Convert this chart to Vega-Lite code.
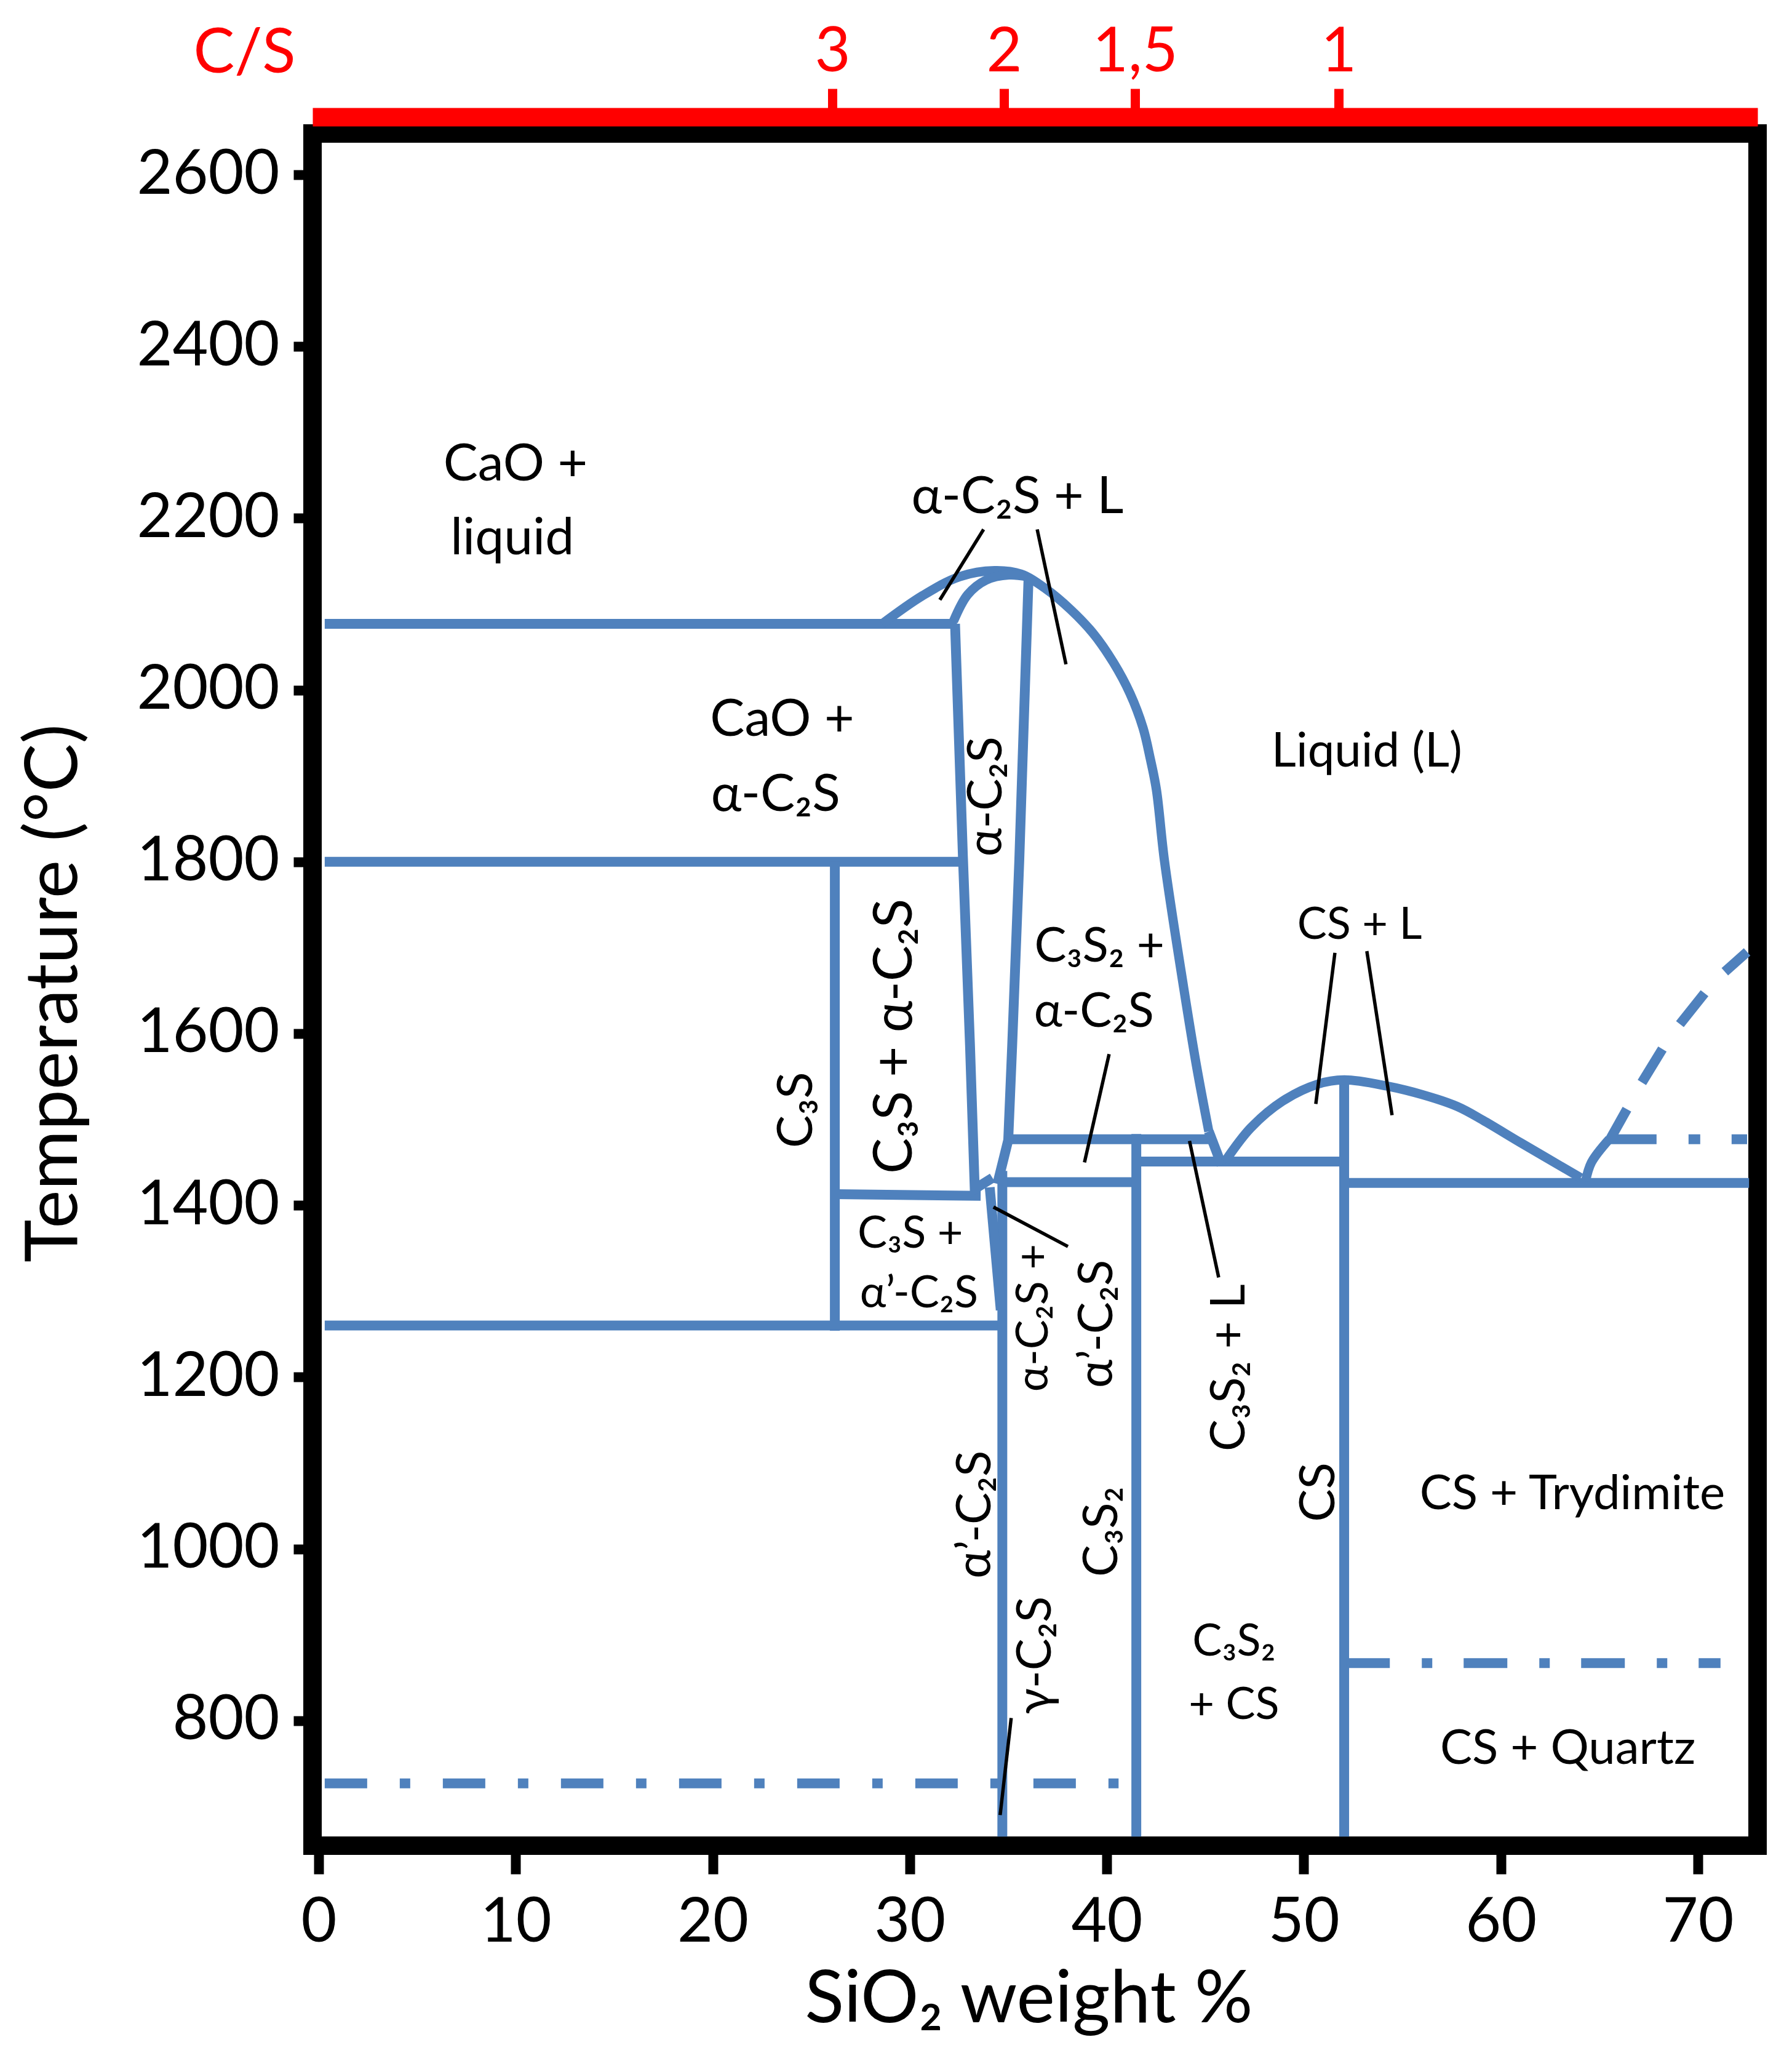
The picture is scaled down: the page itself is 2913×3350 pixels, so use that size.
{
  "$schema": "https://vega.github.io/schema/vega-lite/v6.json",
  "autosize": {"type": "none"},
  "padding": {"left": 508, "top": 217, "right": 56, "bottom": 350},
  "width": 2349,
  "height": 2783,
  "background": "white",
  "config": {
    "font": "Lato",
    "view": {"stroke": "black", "strokeWidth": 30},
    "axis": {"grid": false, "labelFont": "Lato", "titleFont": "Lato", "labelColor": "black", "titleColor": "black", "titleFontWeight": "normal"},
    "text": {"font": "Lato", "color": "black", "baseline": "alphabetic", "align": "center"},
    "line": {"color": "#4F81BD", "strokeWidth": 16, "strokeCap": "butt", "clip": false}
  },
  "datasets": {
    "lines": [
      {"path": "h2075", "i": 0, "x": 0.31, "t": 2077},
      {"path": "h2075", "i": 1, "x": 32.4, "t": 2077},
      {"path": "h1800", "i": 0, "x": 0.31, "t": 1800},
      {"path": "h1800", "i": 1, "x": 32.9, "t": 1800},
      {"path": "h1260", "i": 0, "x": 0.31, "t": 1260},
      {"path": "h1260", "i": 1, "x": 34.7, "t": 1260},
      {"path": "h1413", "i": 0, "x": 26.2, "t": 1413},
      {"path": "h1413", "i": 1, "x": 33.6, "t": 1411},
      {"path": "h1477", "i": 0, "x": 35.0, "t": 1477},
      {"path": "h1477", "i": 1, "x": 45.3, "t": 1477},
      {"path": "h1427", "i": 0, "x": 34.7, "t": 1427},
      {"path": "h1427", "i": 1, "x": 41.5, "t": 1427},
      {"path": "h1451", "i": 0, "x": 41.5, "t": 1451},
      {"path": "h1451", "i": 1, "x": 52.05, "t": 1451},
      {"path": "h1426", "i": 0, "x": 52.05, "t": 1426},
      {"path": "h1426", "i": 1, "x": 72.6, "t": 1426},
      {"path": "v262", "i": 0, "x": 26.2, "t": 1800},
      {"path": "v262", "i": 1, "x": 26.2, "t": 1254},
      {"path": "v347", "i": 0, "x": 34.7, "t": 1440},
      {"path": "v347", "i": 1, "x": 34.7, "t": 665},
      {"path": "v415", "i": 0, "x": 41.5, "t": 1483},
      {"path": "v415", "i": 1, "x": 41.5, "t": 665},
      {"path": "v5205", "i": 0, "x": 52.05, "t": 1550},
      {"path": "v5205", "i": 1, "x": 52.05, "t": 665},
      {"path": "alphaL", "i": 0, "x": 32.3, "t": 2077},
      {"path": "alphaL", "i": 1, "x": 32.7, "t": 1806},
      {"path": "alphaL", "i": 2, "x": 33.06, "t": 1586},
      {"path": "alphaL", "i": 3, "x": 33.3, "t": 1419},
      {"path": "alphaL", "i": 4, "x": 34.2, "t": 1432},
      {"path": "alphaR", "i": 0, "x": 36.03, "t": 2130},
      {"path": "alphaR", "i": 1, "x": 35.56, "t": 1801},
      {"path": "alphaR", "i": 2, "x": 35.2, "t": 1586},
      {"path": "alphaR", "i": 3, "x": 35.0, "t": 1476},
      {"path": "alphaR", "i": 4, "x": 34.45, "t": 1425},
      {"path": "wedge", "i": 0, "x": 34.06, "t": 1421},
      {"path": "wedge", "i": 1, "x": 34.62, "t": 1278},
      {"path": "liqEnd", "i": 0, "x": 45.18, "t": 1486},
      {"path": "liqEnd", "i": 1, "x": 45.83, "t": 1447},
      {"path": "d0", "i": 0, "x": 65.5, "t": 1475},
      {"path": "d0", "i": 1, "x": 66.4, "t": 1512},
      {"path": "d1", "i": 0, "x": 67.16, "t": 1543},
      {"path": "d1", "i": 1, "x": 68.2, "t": 1582},
      {"path": "d2", "i": 0, "x": 69.09, "t": 1611},
      {"path": "d2", "i": 1, "x": 70.34, "t": 1647},
      {"path": "d3", "i": 0, "x": 71.37, "t": 1672},
      {"path": "d3", "i": 1, "x": 72.5, "t": 1695}
    ],
    "curves": [
      {"path": "outer", "i": 0, "x": 28.6, "t": 2077},
      {"path": "outer", "i": 1, "x": 30.66, "t": 2110},
      {"path": "outer", "i": 2, "x": 32.53, "t": 2132},
      {"path": "outer", "i": 3, "x": 34.31, "t": 2139},
      {"path": "outer", "i": 4, "x": 35.65, "t": 2135},
      {"path": "outer", "i": 5, "x": 36.9, "t": 2118},
      {"path": "outer", "i": 6, "x": 38.15, "t": 2094},
      {"path": "outer", "i": 7, "x": 39.31, "t": 2066},
      {"path": "outer", "i": 8, "x": 40.34, "t": 2032},
      {"path": "outer", "i": 9, "x": 41.18, "t": 1996},
      {"path": "outer", "i": 10, "x": 41.84, "t": 1956},
      {"path": "outer", "i": 11, "x": 42.21, "t": 1920},
      {"path": "outer", "i": 12, "x": 42.52, "t": 1884},
      {"path": "outer", "i": 13, "x": 42.93, "t": 1801},
      {"path": "outer", "i": 14, "x": 43.9, "t": 1654},
      {"path": "outer", "i": 15, "x": 44.55, "t": 1563},
      {"path": "outer", "i": 16, "x": 45.18, "t": 1486},
      {"path": "inner", "i": 0, "x": 32.22, "t": 2080},
      {"path": "inner", "i": 1, "x": 32.94, "t": 2111},
      {"path": "inner", "i": 2, "x": 33.87, "t": 2128},
      {"path": "inner", "i": 3, "x": 35.03, "t": 2134},
      {"path": "inner", "i": 4, "x": 35.97, "t": 2132},
      {"path": "cs", "i": 0, "x": 46.0, "t": 1451},
      {"path": "cs", "i": 1, "x": 47.3, "t": 1490},
      {"path": "cs", "i": 2, "x": 48.9, "t": 1521},
      {"path": "cs", "i": 3, "x": 50.7, "t": 1541},
      {"path": "cs", "i": 4, "x": 52.05, "t": 1546},
      {"path": "cs", "i": 5, "x": 54.2, "t": 1539},
      {"path": "cs", "i": 6, "x": 56.0, "t": 1529},
      {"path": "cs", "i": 7, "x": 57.8, "t": 1515},
      {"path": "cs", "i": 8, "x": 59.1, "t": 1499},
      {"path": "cs", "i": 9, "x": 61.0, "t": 1473},
      {"path": "cs", "i": 10, "x": 64.06, "t": 1432},
      {"path": "trid", "i": 0, "x": 64.3, "t": 1428},
      {"path": "trid", "i": 1, "x": 64.6, "t": 1450},
      {"path": "trid", "i": 2, "x": 65.5, "t": 1477}
    ],
    "leaders": [
      {"path": "a", "i": 0, "x": 33.75, "t": 2187},
      {"path": "a", "i": 1, "x": 31.53, "t": 2105},
      {"path": "b", "i": 0, "x": 36.47, "t": 2187},
      {"path": "b", "i": 1, "x": 37.93, "t": 2030},
      {"path": "c", "i": 0, "x": 40.12, "t": 1576},
      {"path": "c", "i": 1, "x": 38.87, "t": 1450},
      {"path": "d", "i": 0, "x": 44.2, "t": 1475},
      {"path": "d", "i": 1, "x": 45.68, "t": 1316},
      {"path": "e", "i": 0, "x": 34.25, "t": 1398},
      {"path": "e", "i": 1, "x": 38.03, "t": 1352},
      {"path": "f", "i": 0, "x": 51.58, "t": 1694},
      {"path": "f", "i": 1, "x": 50.61, "t": 1518},
      {"path": "g", "i": 0, "x": 53.2, "t": 1696},
      {"path": "g", "i": 1, "x": 54.48, "t": 1505},
      {"path": "h", "i": 0, "x": 35.15, "t": 803},
      {"path": "h", "i": 1, "x": 34.59, "t": 690}
    ]
  },
  "encoding": {
    "x": {"field": "x", "type": "quantitative", "scale": {"domain": [-0.31, 73.03], "nice": false, "zero": false}, "axis": null},
    "y": {
      "field": "t", "type": "quantitative",
      "scale": {"domain": [654.4, 2648], "nice": false, "zero": false},
      "axis": {
        "orient": "left", "values": [800, 1000, 1200, 1400, 1600, 1800, 2000, 2200, 2400, 2600], "domain": false,
        "tickSize": 31, "tickWidth": 16, "tickColor": "black",
        "labelFontSize": 100, "labelPadding": 23, "labelFlush": false, "labelLimit": 1000, "format": "d",
        "title": "Temperature (°C)", "titleFontSize": 118, "titleX": -384, "titleY": 1397, "titleBaseline": "alphabetic"
      }
    }
  },
  "resolve": {"axis": {"x": "independent"}},
  "layer": [
    {
      "data": {"name": "lines"},
      "mark": {"type": "line"},
      "encoding": {
        "x": {
          "field": "x", "type": "quantitative",
          "scale": {"domain": [-0.31, 73.03], "nice": false, "zero": false},
          "axis": {
            "orient": "bottom", "values": [0, 10, 20, 30, 40, 50, 60, 70], "domain": false,
            "tickSize": 46, "tickWidth": 16, "tickColor": "black",
            "labelFontSize": 100, "labelPadding": 30, "labelFlush": false,
            "title": "SiO₂ weight %", "titleFontSize": 118, "titleX": 1164, "titleY": 286, "titleBaseline": "alphabetic"
          }
        },
        "detail": {"field": "path"},
        "order": {"field": "i"}
      }
    },
    {
      "data": {"name": "curves"},
      "mark": {"type": "line", "strokeWidth": 15, "interpolate": "catmull-rom"},
      "encoding": {
        "x": {
          "field": "x", "type": "quantitative",
          "scale": {"domain": [-0.31, 73.03], "nice": false, "zero": false},
          "axis": {
            "orient": "top", "offset": 27, "values": [26.07, 34.78, 41.43, 51.76],
            "domain": true, "domainColor": "#FF0000", "domainWidth": 30,
            "tickSize": 46, "tickWidth": 15, "tickColor": "#FF0000",
            "labelFontSize": 100, "labelColor": "#FF0000", "labelPadding": 8, "labelFlush": false,
            "labelExpr": "datum.value < 30 ? '3' : datum.value < 40 ? '2' : datum.value < 45 ? '1,5' : '1'",
            "title": "C/S", "titleColor": "#FF0000", "titleFontSize": 100, "titleX": -111, "titleY": -73, "titleBaseline": "alphabetic"
          }
        },
        "detail": {"field": "path"},
        "order": {"field": "i"}
      }
    },
    {
      "data": {"values": [{"x": 0.31, "t": 727}, {"x": 40.6, "t": 727}]},
      "mark": {"type": "line", "strokeDash": [69, 53, 17, 53]}
    },
    {
      "data": {"values": [{"x": 52.15, "t": 867}, {"x": 71.15, "t": 867}]},
      "mark": {"type": "line", "strokeDash": [71, 52, 17, 51]}
    },
    {
      "data": {"values": [{"x": 65.5, "t": 1477}, {"x": 72.5, "t": 1477}]},
      "mark": {"type": "line", "strokeDash": [77, 52, 19, 51]}
    },
    {
      "data": {"name": "leaders"},
      "mark": {"type": "line", "color": "black", "strokeWidth": 5.5},
      "encoding": {
        "detail": {"field": "path"},
        "order": {"field": "i"}
      }
    },
    {
      "data": {"values": [
        {"label": "CaO +", "x": 9.99, "t": 2244},
        {"label": "liquid", "x": 9.83, "t": 2158},
        {"label": "CaO +", "x": 23.53, "t": 1947},
        {"label": "α-C₂S", "x": 23.19, "t": 1859},
        {"label": "α-C₂S + L", "x": 35.47, "t": 2206}
      ]},
      "mark": {"type": "text", "fontSize": 84},
      "encoding": {"text": {"field": "label"}}
    },
    {
      "data": {"values": [
        {"label": "Liquid (L)", "x": 53.2, "t": 1911},
        {"label": "C₃S₂ +", "x": 39.63, "t": 1684},
        {"label": "α-C₂S", "x": 39.35, "t": 1608},
        {"label": "CS + Trydimite", "x": 63.63, "t": 1046},
        {"label": "CS + Quartz", "x": 63.4, "t": 750}
      ]},
      "mark": {"type": "text", "fontSize": 78},
      "encoding": {"text": {"field": "label"}}
    },
    {
      "data": {"values": [
        {"label": "CS + L", "x": 52.83, "t": 1710},
        {"label": "C₃S +", "x": 30.03, "t": 1351},
        {"label": "α’-C₂S", "x": 30.47, "t": 1281},
        {"label": "C₃S₂", "x": 46.46, "t": 876},
        {"label": "+ CS", "x": 46.46, "t": 802}
      ]},
      "mark": {"type": "text", "fontSize": 72},
      "encoding": {"text": {"field": "label"}}
    },
    {
      "data": {"values": [
        {"label": "C₃S", "x": 25.04, "t": 1511},
        {"label": "CS", "x": 51.55, "t": 1066}
      ]},
      "mark": {"type": "text", "fontSize": 80, "angle": 270},
      "encoding": {"text": {"field": "label"}}
    },
    {
      "data": {"values": [
        {"label": "C₃S + α-C₂S", "x": 30.1, "t": 1597}
      ]},
      "mark": {"type": "text", "fontSize": 87, "angle": 270},
      "encoding": {"text": {"field": "label"}}
    },
    {
      "data": {"values": [
        {"label": "α-C₂S +", "x": 37.0, "t": 1269}
      ]},
      "mark": {"type": "text", "fontSize": 72, "angle": 270},
      "encoding": {"text": {"field": "label"}}
    },
    {
      "data": {"values": [
        {"label": "α-C₂S", "x": 34.65, "t": 1876},
        {"label": "α’-C₂S", "x": 40.27, "t": 1262},
        {"label": "C₃S₂ + L", "x": 47.0, "t": 1211},
        {"label": "α’-C₂S", "x": 34.1, "t": 1040},
        {"label": "C₃S₂", "x": 40.53, "t": 1020},
        {"label": "γ-C₂S", "x": 37.17, "t": 876}
      ]},
      "mark": {"type": "text", "fontSize": 78, "angle": 270},
      "encoding": {"text": {"field": "label"}}
    }
  ]
}
